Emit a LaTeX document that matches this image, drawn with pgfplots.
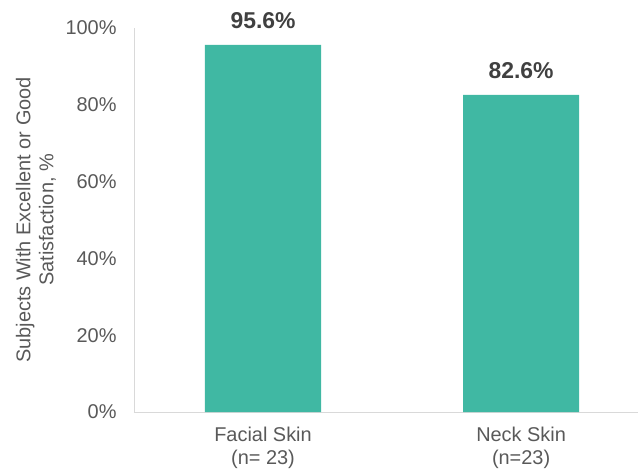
\documentclass[border=0pt]{standalone}
\usepackage{fontspec}
\setmainfont{Liberation Sans}
\usepackage{pgfplots}
\pgfplotsset{compat=1.18}
\definecolor{barteal}{HTML}{40B8A3}
\definecolor{txtgray}{HTML}{595959}
\definecolor{axgray}{HTML}{D9D9D9}
\begin{document}
\begin{tikzpicture}
\begin{axis}[
  name=ax,
  scale only axis,
  width=504bp, height=384bp,
  xmin=-0.5, xmax=1.453,
  ymin=0, ymax=100,
  axis x line*=bottom, axis y line*=left,
  axis line style={axgray, line width=0.8pt, -},
  major tick length=0pt,
  xtick=data,
  xticklabels={{Facial Skin\\(n= 23)},{Neck Skin\\(n=23)}},
  xticklabel style={align=center, font=\fontsize{20}{23}\selectfont, text=txtgray, yshift=-12bp},
  ytick={0,20,40,60,80,100},
  yticklabels={0\%,20\%,40\%,60\%,80\%,100\%},
  yticklabel style={font=\fontsize{20}{22}\selectfont, text=txtgray, xshift=-14bp},
  ylabel={Subjects With Excellent or Good\\Satisfaction, \%},
  ylabel style={at={(axis description cs:0,0.5)}, anchor=center, yshift=98bp,
    align=center, font=\fontsize{20}{23}\selectfont, text=txtgray},
  ybar, bar width=0.45,
  point meta=explicit symbolic,
  nodes near coords={\pgfplotspointmeta\%},
  nodes near coords style={font=\bfseries\fontsize{23}{25}\selectfont, text=black!75, anchor=south, yshift=13bp},
  clip=false,
]
\addplot[fill=barteal, draw=none] coordinates {(0,95.6)[95.6] (1,82.6)[82.6]};
\end{axis}
\pgfresetboundingbox
\path ([shift={(-134bp,-60bp)}]ax.south west) rectangle ([shift={(504bp,412bp)}]ax.south west);
\end{tikzpicture}
\end{document}
